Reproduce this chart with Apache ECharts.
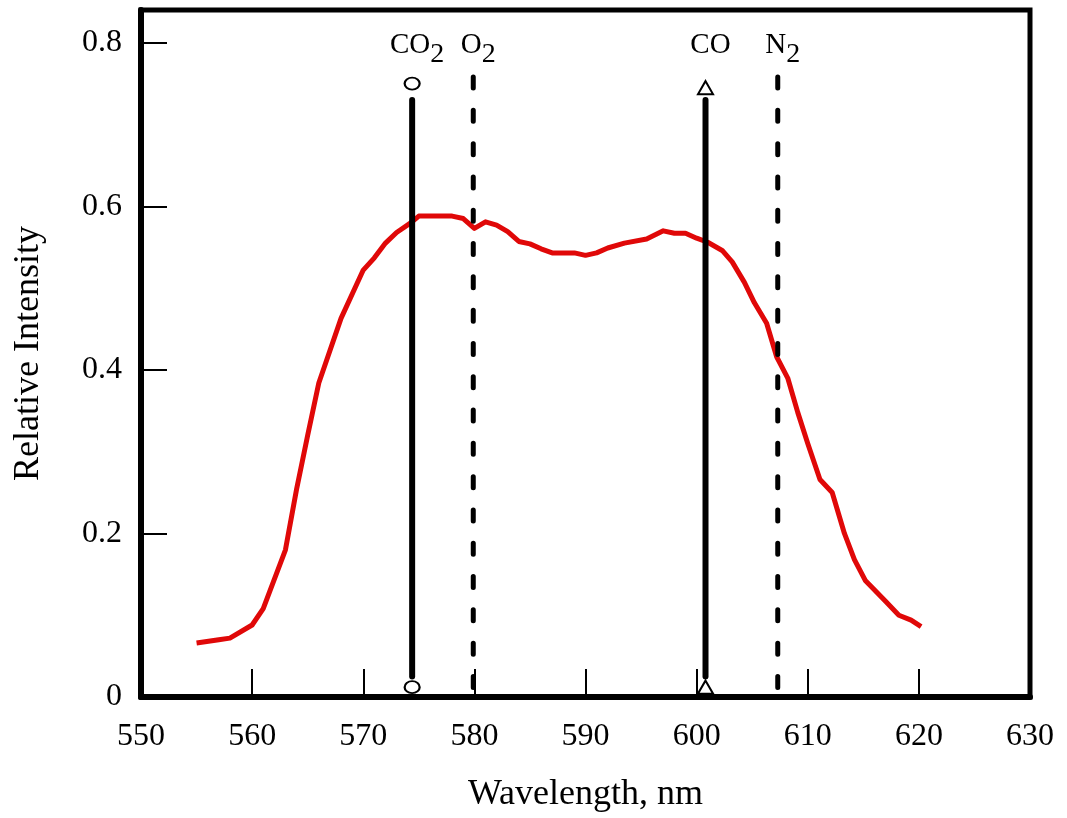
<!DOCTYPE html>
<html>
<head>
<meta charset="utf-8">
<script src="https://cdn.jsdelivr.net/npm/echarts@6/dist/echarts.min.js"></script>
<style>html,body{margin:0;padding:0;background:#fff}#c{width:1067px;height:818px}</style>
</head>
<body>
<div id="c"></div>
<script>
// Emission spectrum (red curve)
const wavelength = [555, 557, 558, 560, 561, 563, 564, 565, 566, 568, 570, 571, 572, 573, 574.3, 575, 576, 577, 578, 579, 580, 581, 582, 583, 584, 585, 586, 587, 588, 589, 590, 591, 592, 593.5, 595.5, 597, 598, 599, 600, 601, 602.3, 603.2, 604.3, 605.2, 606.3, 607.2, 608.2, 609.1, 610, 611.1, 612.2, 613.3, 614.2, 615.2, 617, 618.2, 619.3, 620.2];
const intensity = [0.066, 0.070, 0.072, 0.088, 0.108, 0.180, 0.254, 0.320, 0.384, 0.463, 0.522, 0.537, 0.555, 0.568, 0.580, 0.588, 0.588, 0.588, 0.588, 0.585, 0.573, 0.581, 0.577, 0.569, 0.557, 0.554, 0.548, 0.543, 0.543, 0.543, 0.540, 0.543, 0.549, 0.555, 0.560, 0.570, 0.567, 0.567, 0.561, 0.556, 0.546, 0.532, 0.507, 0.482, 0.457, 0.416, 0.390, 0.348, 0.310, 0.266, 0.250, 0.200, 0.168, 0.142, 0.117, 0.100, 0.094, 0.086];

// Gas lines
const gasNames = ['CO2', 'O2', 'CO', 'N2'];
const gasLabels = ['{a|CO}{s|2}', '{a|O}{s|2}', '{a|CO}', '{a|N}{s|2}'];
const gasWavelength = [574.4, 579.9, 600.8, 607.3];
const gasDashed = [false, true, false, true];
const solidRange = [0.025, 0.73];
const dashedRange = [0.758, 0];
const markerTop = [0.75, 0.745];
const markerBottom = 0.012;
const labelY = 0.8;

const xTicks = {min: 550, max: 630, interval: 10};
const yTicks = {min: 0, max: 0.84, interval: 0.2};

const font = 'Liberation Serif';
const series = [];
series.push({
  type: 'line', data: wavelength.map((w, i) => [w, intensity[i]]),
  showSymbol: false, symbol: 'none', z: 3,
  lineStyle: {color: '#e00808', width: 5, join: 'round'}
});
let solidIdx = 0;
gasWavelength.forEach((w, i) => {
  const r = gasDashed[i] ? dashedRange : solidRange;
  series.push({
    type: 'line', data: [[w, r[0]], [w, r[1]]], showSymbol: false, symbol: 'none', z: 4,
    lineStyle: gasDashed[i] ? {color: '#000', width: 5, type: [11, 22.3], cap: 'round'} : {color: '#000', width: 6, cap: 'round'}
  });
  if (!gasDashed[i]) {
    const isCirc = gasNames[i] === 'CO2';
    series.push({
      type: 'scatter', data: [[w, markerTop[solidIdx]], [w, markerBottom]], z: 5,
      symbol: isCirc ? 'circle' : 'triangle',
      symbolSize: isCirc ? [15, 12] : [15, 13],
      itemStyle: {color: '#fff', borderColor: '#000', borderWidth: 2, opacity: 1}
    });
    solidIdx++;
  }
});
series.push({
  type: 'scatter', z: 6, symbolSize: 1, itemStyle: {color: 'rgba(0,0,0,0)', opacity: 1},
  data: gasWavelength.map((w, i) => ({value: [w, labelY], label: {formatter: gasLabels[i]}})),
  label: {
    show: true, position: 'inside', offset: [5, 3], color: '#000', opacity: 1,
    rich: {
      a: {fontFamily: font, fontSize: 29, color: '#000'},
      s: {fontFamily: font, fontSize: 28, color: '#000', padding: [17, 0, 0, 0]}
    }
  }
});

const chart = echarts.init(document.getElementById('c'));
chart.setOption({
  animation: false,
  grid: {left: 141, right: 37, top: 10, bottom: 119, show: true, borderColor: '#000', borderWidth: 5},
  xAxis: {
    type: 'value', min: xTicks.min, max: xTicks.max, interval: xTicks.interval,
    name: 'Wavelength, nm', nameLocation: 'middle', nameGap: 80,
    nameTextStyle: {fontFamily: font, fontSize: 36, color: '#000'},
    axisLine: {lineStyle: {color: '#000', width: 6}},
    axisTick: {inside: true, length: 28, lineStyle: {color: '#000', width: 2}},
    axisLabel: {fontFamily: font, fontSize: 32, color: '#000', margin: 24},
    splitLine: {show: false}
  },
  yAxis: {
    type: 'value', min: yTicks.min, max: yTicks.max, interval: yTicks.interval,
    name: 'Relative Intensity', nameLocation: 'middle', nameGap: 94,
    nameTextStyle: {fontFamily: font, fontSize: 36, color: '#000'},
    axisLine: {lineStyle: {color: '#000', width: 6}},
    axisTick: {inside: true, length: 26, lineStyle: {color: '#000', width: 2}},
    axisLabel: {fontFamily: font, fontSize: 32, color: '#000', margin: 19, showMaxLabel: false,
      formatter: v => v === 0 ? '0' : v.toFixed(1)},
    splitLine: {show: false}
  },
  series: series
});
</script>
</body>
</html>
